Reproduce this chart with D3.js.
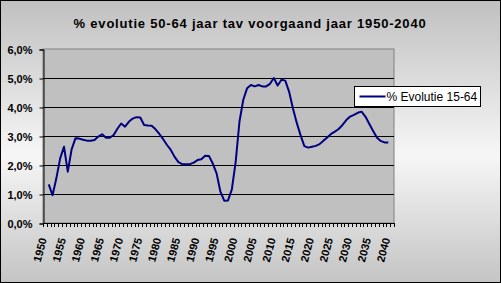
<!DOCTYPE html>
<html>
<head>
<meta charset="utf-8">
<script src="https://cdn.jsdelivr.net/npm/d3@7"></script>
<style>
  body { margin: 0; padding: 0; background: #fff; }
  svg { display: block; font-family: "Liberation Sans", Arial, sans-serif; }
</style>
</head>
<body>
<div id="myChart"></div>
<script>
// categories on the x axis (one per year, last one left empty)
var categories = d3.range(1950, 2042);
var dataYears = d3.range(1951, 2041);
// % Evolutie 15-64 (1951 .. 2040)
var evolutie = [
  1.33, 0.96, 1.54, 2.23, 2.63, 1.77, 2.54, 2.92, 2.91, 2.87,
  2.84, 2.84, 2.86, 2.98, 3.06, 2.94, 2.94, 3.03, 3.25, 3.43,
  3.32, 3.49, 3.60, 3.65, 3.64, 3.38, 3.36, 3.35, 3.23, 3.07,
  2.89, 2.69, 2.52, 2.28, 2.10, 2.03, 2.03, 2.03, 2.08, 2.17,
  2.20, 2.32, 2.31, 2.05, 1.71, 1.08, 0.77, 0.78, 1.16, 2.11,
  3.50, 4.25, 4.65, 4.76, 4.71, 4.76, 4.71, 4.71, 4.80, 5.00,
  4.74, 4.94, 4.91, 4.53, 3.96, 3.46, 3.03, 2.65, 2.60, 2.63,
  2.66, 2.72, 2.84, 2.95, 3.07, 3.15, 3.24, 3.38, 3.55, 3.67,
  3.73, 3.80, 3.84, 3.67, 3.42, 3.18, 2.95, 2.83, 2.78, 2.78
];
var xTickLabels = [1950, 1955, 1960, 1965, 1970, 1975, 1980, 1985, 1990, 1995,
  2000, 2005, 2010, 2015, 2020, 2025, 2030, 2035, 2040];
var yTicks = [0, 1, 2, 3, 4, 5, 6];
var title = "% evolutie 50-64 jaar tav voorgaand jaar 1950-2040";
var seriesName = "% Evolutie 15-64";

let width = 501;
let height = 283;

let svg = d3.select("#myChart").append("svg")
  .attr("width", width)
  .attr("height", height);

// background gradient
var defs = svg.append("defs");
var grad = defs.append("linearGradient")
  .attr("id", "bg").attr("x1", 0).attr("y1", 0).attr("x2", 0).attr("y2", 1);
grad.append("stop").attr("offset", "0%").attr("stop-color", "#c0c0c0");
grad.append("stop").attr("offset", "55%").attr("stop-color", "#f6f6f6");
grad.append("stop").attr("offset", "100%").attr("stop-color", "#c4c4c4");

svg.append("rect")
  .attr("x", 0.5).attr("y", 0.5)
  .attr("width", width - 1).attr("height", height - 1)
  .attr("fill", "url(#bg)")
  .attr("stroke", "#000");

// scales
var x = d3.scaleBand()
  .domain(categories)
  .range([43, 394])
  .padding(0);

var y = d3.scaleLinear()
  .domain([0, 6])
  .range([223, 49]);

var left = x.range()[0], right = x.range()[1];

// plot area
svg.append("rect")
  .attr("x", left).attr("y", y(6))
  .attr("width", right - left).attr("height", y(0) - y(6))
  .attr("fill", "#c0c0c0")
  .attr("stroke", "#808080");

// gridlines
svg.append("g")
  .selectAll("line")
  .data(yTicks.filter(function (d) { return d > 0 && d < 6; }))
  .enter().append("line")
  .attr("x1", left).attr("x2", right)
  .attr("y1", function (d) { return Math.round(y(d)) + 0.5; })
  .attr("y2", function (d) { return Math.round(y(d)) + 0.5; })
  .attr("stroke", "#000");

// y axis
var yAxis = svg.append("g")
  .attr("transform", "translate(" + (left + 0.5) + ",0.5)")
  .call(d3.axisLeft(y).tickValues(yTicks).tickSize(4).tickPadding(7)
    .tickFormat(function (d) { return d.toFixed(1).replace(".", ",") + "%"; }));
yAxis.select(".domain").attr("stroke", "#000");
yAxis.selectAll("text")
  .attr("font-size", 11).attr("font-weight", "bold").attr("fill", "#000")
  .attr("font-family", "Liberation Sans, Arial, sans-serif");

// x axis line
svg.append("line")
  .attr("x1", left).attr("x2", right + 1)
  .attr("y1", Math.round(y(0)) + 0.5).attr("y2", Math.round(y(0)) + 0.5)
  .attr("stroke", "#000");

// x tick marks between categories
var bounds = categories.map(function (d) { return x(d); }).concat([right]);
svg.append("g")
  .selectAll("line")
  .data(bounds)
  .enter().append("line")
  .attr("x1", function (d) { return Math.round(d) + 0.5; })
  .attr("x2", function (d) { return Math.round(d) + 0.5; })
  .attr("y1", Math.round(y(0)))
  .attr("y2", Math.round(y(0)) + 4)
  .attr("stroke", "#000");

// x labels (rotated)
svg.append("g")
  .selectAll("text")
  .data(xTickLabels)
  .enter().append("text")
  .attr("transform", function (d) {
    return "translate(" + (x(d) + x.bandwidth() / 2 + 2) + "," + 239 + ") rotate(-75)";
  })
  .attr("text-anchor", "end")
  .attr("font-size", 11)
  .attr("font-weight", "bold")
  .text(function (d) { return d; });

// the line
var line = d3.line()
  .x(function (d, i) { return x(dataYears[i]) + x.bandwidth() / 2; })
  .y(function (d) { return y(d); });

svg.append("path")
  .datum(evolutie)
  .attr("d", line)
  .attr("fill", "none")
  .attr("stroke", "#000080")
  .attr("stroke-width", 2)
  .attr("stroke-linejoin", "round");

// title
svg.append("text")
  .attr("x", 250).attr("y", 28)
  .attr("text-anchor", "middle")
  .attr("font-size", 13)
  .attr("font-weight", "bold")
  .attr("letter-spacing", "0.8px")
  .text(title);

// legend
var lg = svg.append("g").attr("transform", "translate(354.5,86.5)");
lg.append("rect")
  .attr("width", 126).attr("height", 20)
  .attr("fill", "#fff").attr("stroke", "#000");
lg.append("line")
  .attr("x1", 5).attr("x2", 31).attr("y1", 10).attr("y2", 10)
  .attr("stroke", "#000080").attr("stroke-width", 2);
lg.append("text")
  .attr("x", 32).attr("y", 14.5)
  .attr("font-size", 12)
  .text(seriesName);
</script>
</body>
</html>
